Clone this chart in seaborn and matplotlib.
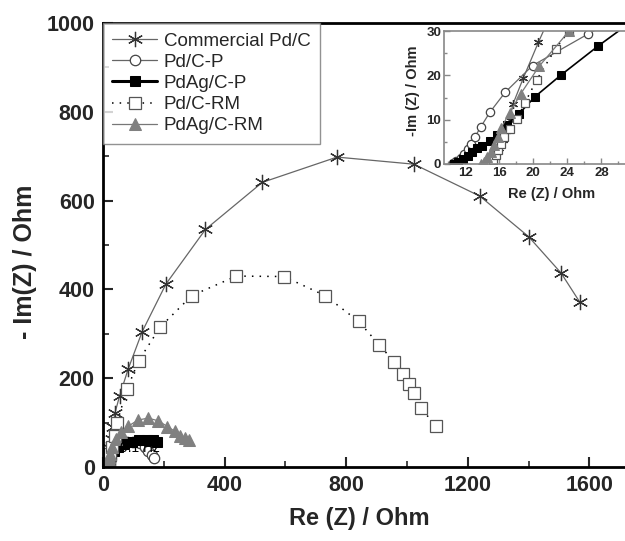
import numpy as np
import pandas as pd
import matplotlib
matplotlib.use("Agg")
import matplotlib.pyplot as plt
import seaborn as sns
from matplotlib.ticker import MultipleLocator

# 绘图风格
sns.set_theme(style="ticks")
plt.rcParams['font.family'] = ['Liberation Sans', 'DejaVu Sans']

# 数据 (Nyquist: Re(Z), -Im(Z) in Ohm)
comm_x = [15.0, 15.3, 15.6, 16.0, 16.4, 16.8, 17.2, 17.6, 18.8, 20.6, 24, 29, 34, 39,
          55, 83, 129, 207, 337, 524, 770, 1023, 1240, 1400, 1507, 1569]
comm_y = [0.2, 1.0, 2.0, 3.5, 5.5, 7.5, 10.0, 13.5, 19.3, 27.5, 42, 63, 90, 121,
          161, 221, 305, 412, 535, 641, 698, 682, 610, 519, 437, 371]

pdcp_x = [10.5, 10.9, 11.5, 11.9, 12.3, 12.7, 13.1, 13.8, 14.9, 16.7, 19.9, 26.4,
          35, 45, 56, 78, 100, 122, 138, 149, 160, 169]
pdcp_y = [0.15, 0.6, 1.4, 2.3, 3.4, 4.6, 6.0, 8.3, 11.7, 16.2, 22.2, 29.3,
          38, 46, 52, 57, 57, 53, 46, 37, 27, 20]

pdagcp_x = [10.7, 11.1, 11.7, 12.3, 12.8, 13.4, 14.0, 14.9, 15.7, 16.9, 18.3, 20.2, 23.2, 27.6,
            35, 50, 70, 95, 120, 145, 165, 178]
pdagcp_y = [0.1, 0.45, 1.1, 1.9, 2.6, 3.5, 4.1, 5.1, 6.6, 8.9, 11.3, 15.2, 20.0, 26.6,
            37, 45, 52, 57, 60, 61, 60, 57]

pdcrm_x = [15.0, 15.3, 15.6, 15.9, 16.2, 16.6, 17.2, 18.1, 19.0, 20.4, 22.6, 24.2,
           30, 38, 46, 79, 117, 188, 292, 439, 595, 731, 841, 909, 959, 987, 1007, 1022, 1045, 1095]
pdcrm_y = [0.2, 1.0, 2.0, 3.2, 4.5, 6.0, 7.8, 10.2, 13.8, 19.0, 26.0, 30.0,
           45, 70, 100, 175, 239, 315, 386, 430, 429, 386, 328, 275, 236, 209, 188, 166, 134, 92]

pdagrm_x = [13.9, 14.2, 14.6, 15.0, 15.4, 15.8, 16.2, 17.2, 18.5, 20.7, 24.2,
            30, 42, 58, 83, 116, 149, 182, 212, 237, 253, 270, 284]
pdagrm_y = [0.1, 0.5, 1.5, 2.8, 4.2, 6.0, 8.1, 11.5, 15.8, 22.1, 30.0,
            45, 62, 78, 92, 106, 110, 104, 91, 80, 70, 65, 61]

labels = ['Commercial Pd/C', 'Pd/C-P', 'PdAg/C-P', 'Pd/C-RM', 'PdAg/C-RM']
series = [(comm_x, comm_y), (pdcp_x, pdcp_y), (pdagcp_x, pdagcp_y),
          (pdcrm_x, pdcrm_y), (pdagrm_x, pdagrm_y)]

styles = [
    dict(marker=(6, 2, 0), color='#666666', linewidth=0.9, markeredgecolor='#333333',
         markeredgewidth=0.9, ms=11),
    dict(marker='o', color='#666666', linewidth=0.9, markerfacecolor='white',
         markeredgecolor='#444444', markeredgewidth=0.9, ms=7.5),
    dict(marker='s', color='black', linewidth=2.2, markerfacecolor='black',
         markeredgecolor='black', ms=7),
    dict(marker='s', color='black', linewidth=1.1, linestyle=(0, (1, 4)),
         markerfacecolor='white', markeredgecolor='#555555', markeredgewidth=0.9, ms=8),
    dict(marker='^', color='#777777', linewidth=0.9, markerfacecolor='#808080',
         markeredgecolor='#808080', ms=8.5),
]

fig = plt.figure(figsize=(6.25, 5.41), dpi=100)
ax = fig.add_axes([103 / 625, 74 / 541, 524 / 625, 444 / 541])

for (xs, ys), lab, st in zip(series, labels, styles):
    df = pd.DataFrame({'x': xs, 'y': ys})
    sns.lineplot(data=df, x='x', y='y', ax=ax, sort=False, estimator=None,
                 label=lab, legend=False, **st)

ax.text(56, 33, '0.1 Hz', fontsize=10, color='black', ha='left', va='baseline')

ax.set_xlim(0, 1724)
ax.set_ylim(0, 1000)
ax.xaxis.set_major_locator(MultipleLocator(400))
ax.xaxis.set_minor_locator(MultipleLocator(200))
ax.yaxis.set_major_locator(MultipleLocator(200))
ax.yaxis.set_minor_locator(MultipleLocator(100))
ax.tick_params(which='major', direction='in', length=7, width=1.5, labelsize=15.5, pad=6)
ax.tick_params(which='minor', direction='in', length=4, width=1.2)
for t in ax.get_xticklabels() + ax.get_yticklabels():
    t.set_fontweight('bold')
for s in ['left', 'bottom', 'top']:
    ax.spines[s].set_linewidth(2)
    ax.spines[s].set_color('black')
ax.spines['right'].set_visible(False)

ax.set_xlabel('Re (Z) / Ohm', fontsize=17, fontweight='bold')
ax.set_ylabel('- Im(Z) / Ohm', fontsize=18, fontweight='bold')
ax.xaxis.set_label_coords(0.49, -0.09)
ax.yaxis.set_label_coords(-0.125, 0.462)

leg = ax.legend(loc='upper left', bbox_to_anchor=(0, 1), borderaxespad=0,
                fontsize=13.5, frameon=True, fancybox=False, handlelength=2.4,
                handletextpad=0.35, labelspacing=0.22, borderpad=0.5)
leg.get_frame().set_edgecolor('#777777')
leg.get_frame().set_linewidth(1)

# 插图
axin = fig.add_axes([444 / 625, 377 / 541, 183 / 625, 133 / 541])
inset_ms = [6.5, 6, 5.5, 6, 6.5]
for (xs, ys), st, m in zip(series, styles, inset_ms):
    st2 = dict(st)
    st2['ms'] = m
    if st2.get('linewidth', 1) > 2:
        st2['linewidth'] = 1.2
    df = pd.DataFrame({'x': xs, 'y': ys})
    sns.lineplot(data=df, x='x', y='y', ax=axin, sort=False, estimator=None,
                 legend=False, **st2)
axin.set_xlim(9.5, 31.0)
axin.set_ylim(0, 30)
axin.xaxis.set_major_locator(MultipleLocator(4))
axin.xaxis.set_minor_locator(MultipleLocator(2))
axin.yaxis.set_major_locator(MultipleLocator(10))
axin.yaxis.set_minor_locator(MultipleLocator(5))
axin.tick_params(which='major', direction='in', length=4, width=1, color='#888888',
                 labelsize=9.5, pad=2)
axin.tick_params(which='minor', direction='in', length=2, width=1, color='#888888')
for t in axin.get_xticklabels() + axin.get_yticklabels():
    t.set_fontweight('bold')
for s in axin.spines.values():
    s.set_color('#888888')
    s.set_linewidth(1.2)
axin.set_xlabel('Re (Z) / Ohm', fontsize=10.5, fontweight='bold')
axin.set_ylabel('-Im (Z) / Ohm', fontsize=10.5, fontweight='bold')
axin.xaxis.set_label_coords(0.59, -0.17)
axin.yaxis.set_label_coords(-0.13, 0.55)

fig.savefig('out.png', dpi=100)
